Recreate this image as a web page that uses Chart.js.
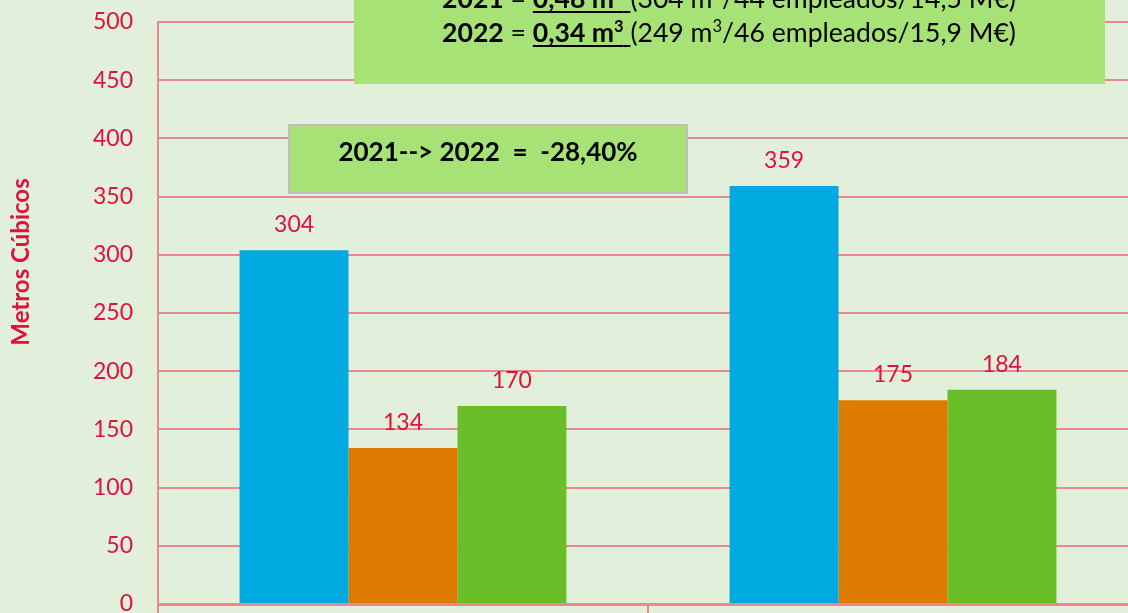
<!DOCTYPE html>
<html>
<head>
<meta charset="utf-8">
<script src="https://cdn.jsdelivr.net/npm/chart.js@4.4.1/dist/chart.umd.min.js"></script>
<style>
html, body { margin: 0; padding: 0; overflow: hidden; background: #E2EFDA; }
canvas { display: block; }
</style>
</head>
<body>
<canvas id="myChart" width="1140" height="613"></canvas>
<script>
// datos
var categories = ['Periodo 1', 'Periodo 2'];
var serieAzul = [304, 359];
var serieNaranja = [134, 175];
var serieVerde = [170, 184];
var yMin = 0, yMax = 500, yStep = 50;
var tituloEjeY = 'Metros Cúbicos';
var textoVariacion = '2021--> 2022  =  -28,40%';

var rojo = '#E0103F';
var rosa = '#E98891';
var verdeCaja = '#A6E275';

// linea de texto con trozos en negrita / superindice / subrayado
function drawRich(ctx, parts, cx, baseline, size) {
    var total = 0;
    parts.forEach(function(p) {
        var s = p.sup ? size * 0.62 : size;
        ctx.font = (p.bold ? 'bold ' : '') + s + 'px Lato';
        p.w = ctx.measureText(p.t).width;
        total += p.w;
    });
    var x = cx - total / 2;
    parts.forEach(function(p) {
        var s = p.sup ? size * 0.62 : size;
        ctx.font = (p.bold ? 'bold ' : '') + s + 'px Lato';
        ctx.fillText(p.t, x, p.sup ? baseline - size * 0.38 : baseline);
        if (p.u) {
            ctx.fillRect(x, baseline + 3, p.w, 2);
        }
        x += p.w;
    });
}

var cajas = {
    id: 'cajas',
    afterDraw: function(chart) {
        var ctx = chart.ctx;
        ctx.save();
        // caja superior (ratios)
        ctx.fillStyle = verdeCaja;
        ctx.fillRect(354, 0, 751, 84);
        ctx.fillStyle = '#000';
        ctx.textAlign = 'left';
        ctx.textBaseline = 'alphabetic';
        drawRich(ctx, [
            {t: '2021', bold: true}, {t: ' = '},
            {t: '0,48 m', bold: true, u: true}, {t: '3', bold: true, sup: true, u: true}, {t: ' ', u: true},
            {t: '(304 m'}, {t: '3', sup: true}, {t: '/44 empleados/14,5 M€)'}
        ], 729, 8, 26.6);
        drawRich(ctx, [
            {t: '2022', bold: true}, {t: ' = '},
            {t: '0,34 m', bold: true, u: true}, {t: '3', bold: true, sup: true, u: true}, {t: ' ', u: true},
            {t: '(249 m'}, {t: '3', sup: true}, {t: '/46 empleados/15,9 M€)'}
        ], 729, 42, 26.6);

        // caja de variacion
        ctx.fillStyle = verdeCaja;
        ctx.fillRect(289, 125, 398, 68);
        ctx.strokeStyle = '#BEBEBE';
        ctx.lineWidth = 2;
        ctx.strokeRect(289, 125, 398, 68);
        ctx.fillStyle = '#000';
        ctx.font = 'bold 26px Lato';
        ctx.textAlign = 'center';
        ctx.textBaseline = 'middle';
        ctx.fillText(textoVariacion, 488, 153);

        // titulo eje Y
        ctx.translate(21, 262);
        ctx.rotate(-Math.PI / 2);
        ctx.fillStyle = rojo;
        ctx.font = 'bold 24px Lato';
        ctx.fillText(tituloEjeY, 0, 0);
        ctx.restore();
    }
};

var etiquetas = {
    id: 'etiquetas',
    afterDatasetsDraw: function(chart) {
        var ctx = chart.ctx;
        ctx.save();
        ctx.font = '23px Lato';
        ctx.fillStyle = rojo;
        ctx.textAlign = 'center';
        ctx.textBaseline = 'alphabetic';
        chart.data.datasets.forEach(function(ds, i) {
            chart.getDatasetMeta(i).data.forEach(function(bar, j) {
                ctx.fillText(ds.data[j], bar.x, bar.y - 18);
            });
        });
        ctx.restore();
    }
};

document.addEventListener('DOMContentLoaded', function() {
    var ctx = document.getElementById('myChart').getContext('2d');
    var myChart = new Chart(ctx, {
        type: 'bar',
        data: {
            labels: categories,
            datasets: [
                { label: 'A', data: serieAzul, backgroundColor: '#00A9DF' },
                { label: 'B', data: serieNaranja, backgroundColor: '#DF7A00' },
                { label: 'C', data: serieVerde, backgroundColor: '#6ABE28' }
            ]
        },
        options: {
            responsive: false,
            animation: false,
            devicePixelRatio: 1,
            layout: { padding: { top: 22, right: 2, left: 0, bottom: 0 } },
            datasets: { bar: { categoryPercentage: 0.667, barPercentage: 1.0 } },
            plugins: {
                legend: { display: false },
                tooltip: { enabled: false }
            },
            scales: {
                x: {
                    ticks: { display: false, padding: 0 },
                    grid: { display: true, drawOnChartArea: false, drawTicks: true, tickLength: 9, color: rosa, lineWidth: 2, offset: true },
                    border: { display: true, color: rosa, width: 3 },
                    afterFit: function(s) {
                        s.height = 9;
                        s.paddingLeft = 0; s.paddingRight = 0; s.paddingTop = 0; s.paddingBottom = 0;
                    }
                },
                y: {
                    min: yMin,
                    max: yMax,
                    ticks: { stepSize: yStep, color: rojo, font: { family: 'Lato', size: 23 }, padding: 25 },
                    grid: { color: rosa, lineWidth: 2, drawTicks: false },
                    border: { display: true, color: rosa, width: 2 },
                    afterFit: function(s) {
                        s.width = 158;
                        s.paddingLeft = 0; s.paddingRight = 0; s.paddingTop = 0; s.paddingBottom = 0;
                    }
                }
            }
        },
        plugins: [etiquetas, cajas]
    });
});
</script>
</body>
</html>
